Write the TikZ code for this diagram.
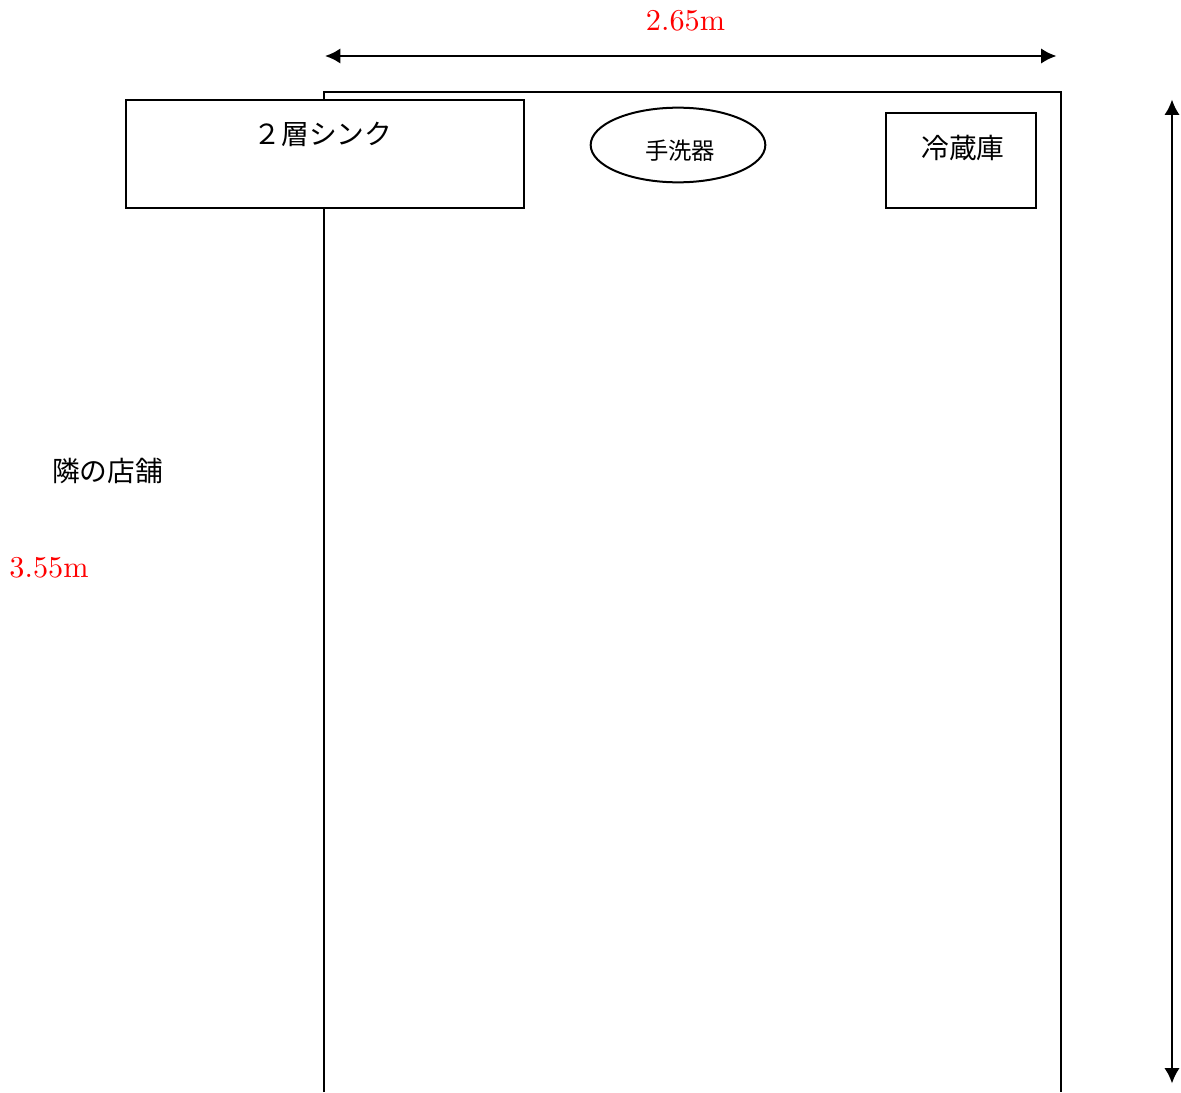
\documentclass[tikz,border=0pt]{standalone}
\usepackage{fontspec}
\usetikzlibrary{arrows.meta,shapes.geometric}
\newfontfamily\cjk{Noto Sans CJK JP}
\tikzset{
    fixture/.style={draw,line width=1.5pt,fill=white,inner sep=0pt},
    jplabel/.style={font=\cjk\fontsize{20.8pt}{24pt}\selectfont,inner sep=0pt},
    dimlabel/.style={text=red,font=\fontsize{10pt}{12pt}\selectfont,scale=2.27,inner sep=0pt},
    dimline/.style={line width=1.8pt,{Latex[length=11.5pt,width=11.5pt]}-{Latex[length=11.5pt,width=11.5pt]}}
}

\begin{document}
\begin{tikzpicture}[x=0.75pt,y=-0.75pt]
    \useasboundingbox (0,0) rectangle (1181,1092);
    \coordinate (roomsw) at (324,1092);
    \coordinate (roomnw) at (324,92);
    \coordinate (roomne) at (1061,92);
    \coordinate (roomse) at (1061,1092);
    \draw[line width=1.5pt] (roomsw) -- (roomnw) -- (roomne) -- (roomse);

    \node[fixture,minimum width=298.5pt,minimum height=81pt] (sink) at (325,154) {};
    \node[jplabel] (sinklabel) at (323,134) {２層シンク};
    \node[fixture,ellipse,minimum width=131pt,minimum height=56pt] (basin) at (678,145) {};
    \node[jplabel,font=\cjk\fontsize{17.5pt}{21pt}\selectfont] (basinlabel) at (680,151) {手洗器};
    \node[fixture,minimum width=112pt,minimum height=71pt] (fridge) at (961,160.5) {};
    \node[jplabel] (fridgelabel) at (963,148) {冷蔵庫};
    \node[jplabel] (nextshop) at (107.5,471) {隣の店舗};

    \node[dimlabel] (widthlabel) at (685.5,21) {2.65m};
    \node[dimlabel] (depthlabel) at (49,568) {3.55m};
    \coordinate (widthl) at (325,56);
    \coordinate (widthr) at (1056.5,56);
    \coordinate (deptht) at (1172,99.5);
    \coordinate (depthb) at (1172,1083.5);
    \draw[dimline] (widthl) -- (widthr);
    \draw[dimline] (deptht) -- (depthb);
\end{tikzpicture}
\end{document}
